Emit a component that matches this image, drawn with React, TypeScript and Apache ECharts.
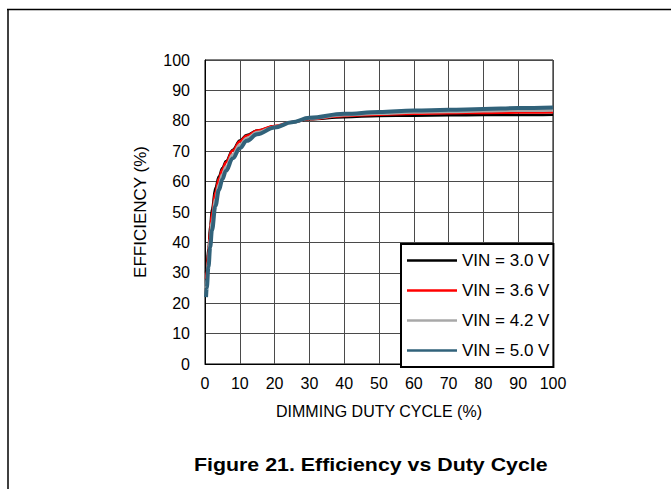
import React, { useEffect, useRef } from "react";
import * as echarts from "echarts";

const duty = [0.3, 0.5, 1, 1.5, 2, 3, 4, 5, 6, 8, 10, 12, 15, 20, 25, 30, 40, 50, 60, 70, 80, 90, 100];
const vin30 = [30, 32.5, 38, 45.5, 51, 58, 61.8, 64.5, 66.7, 70.5, 73.5, 75.3, 76.8, 78.2, 79.5, 80.5, 81.2, 81.6, 81.7, 81.8, 81.9, 81.9, 82];
const vin36 = [28, 30.5, 37, 44, 49.5, 56.5, 61, 64, 66.3, 70.2, 73.2, 75.1, 76.8, 78.3, 79.6, 80.6, 81.6, 82, 82.3, 82.5, 82.6, 82.7, 82.8];
const vin42 = [25, 27.8, 34, 41, 46.5, 54, 59, 62.3, 64.8, 68.9, 72.1, 74.3, 76.2, 78, 79.5, 80.8, 81.9, 82.4, 82.8, 83, 83.2, 83.4, 83.5];
const vin50 = [22, 25, 32, 38.5, 44, 52, 57.2, 60.8, 63.5, 67.7, 71, 73.4, 75.6, 77.8, 79.5, 81, 82.3, 82.9, 83.4, 83.6, 83.9, 84.2, 84.4];
const seriesNames = ["VIN = 3.0 V", "VIN = 3.6 V", "VIN = 4.2 V", "VIN = 5.0 V"];
const seriesColors = ["#000000", "#ff0000", "#a8a8a8", "#31627a"];
const seriesWidths = [2.5, 2.5, 3, 4];
const xTicks = [0, 10, 20, 30, 40, 50, 60, 70, 80, 90, 100];
const yTicks = [0, 10, 20, 30, 40, 50, 60, 70, 80, 90, 100];
const titleText = "Figure 21. Efficiency vs Duty Cycle";

const LEGEND_ICON = "path://M0,0 L0,0 M0,11.5 L50,11.5 L50,16.5 L0,16.5 Z M50,28 L50,28";

export default function App() {
  const ref = useRef<HTMLDivElement>(null);
  useEffect(() => {
    if (!ref.current) return;
    const chart = echarts.init(ref.current, undefined, { renderer: "svg" });
    const all = [vin30, vin36, vin42, vin50];
    const font = "Liberation Sans, Arial, sans-serif";
    chart.setOption({
      animation: false,
      backgroundColor: "#ffffff",
      textStyle: { fontFamily: font },
      grid: {
        left: 205,
        top: 60,
        width: 348,
        height: 304,
        show: true,
        borderColor: "#000",
        borderWidth: 1,
      },
      legend: {
        orient: "vertical",
        left: 401,
        top: 244,
        padding: [8, 4, 8, 6],
        itemWidth: 50,
        itemHeight: 14,
        itemGap: 13,
        symbolKeepAspect: false,
        backgroundColor: "#fff",
        borderColor: "#000",
        borderWidth: 2,
        borderRadius: 0,
        data: seriesNames.map((n) => ({ name: n, icon: LEGEND_ICON })),
        textStyle: { fontFamily: font, fontSize: 17, color: "#000" },
      },
      xAxis: {
        type: "value",
        min: 0,
        max: 100,
        interval: 10,
        name: "DIMMING DUTY CYCLE (%)",
        nameLocation: "middle",
        nameGap: 39,
        nameTextStyle: { fontFamily: font, fontSize: 16, color: "#000" },
        axisLine: { lineStyle: { color: "#000", width: 1 } },
        axisTick: { show: false },
        axisLabel: {
          margin: 11,
          fontFamily: font,
          fontSize: 16,
          color: "#000",
          formatter: (v: number) => (xTicks.includes(v) ? String(v) : ""),
        },
        splitLine: { show: true, lineStyle: { color: "#4a4a4a", width: 1 } },
      },
      yAxis: {
        type: "value",
        min: 0,
        max: 100,
        interval: 10,
        name: "EFFICIENCY (%)",
        nameLocation: "middle",
        nameGap: 56,
        nameTextStyle: { fontFamily: font, fontSize: 17, color: "#000" },
        axisLine: { show: true, lineStyle: { color: "#000", width: 1 } },
        axisTick: { show: false },
        axisLabel: {
          margin: 15,
          fontFamily: font,
          fontSize: 16,
          color: "#000",
          formatter: (v: number) => (yTicks.includes(v) ? String(v) : ""),
        },
        splitLine: { show: true, lineStyle: { color: "#4a4a4a", width: 1 } },
      },
      series: all.map((vals, i) => ({
        name: seriesNames[i],
        type: "line",
        data: duty.map((d, j) => [d, vals[j]]),
        symbol: "none",
        smooth: 0.4,
        smoothMonotone: "x",
        lineStyle: { color: seriesColors[i], width: seriesWidths[i] },
        itemStyle: { color: seriesColors[i] },
        z: 2 + i,
      })),
      graphic: [
        { type: "line", shape: { x1: 7, y1: 9.5, x2: 671, y2: 9.5 }, style: { stroke: "#000", lineWidth: 1.5 } },
        { type: "line", shape: { x1: 8, y1: 9, x2: 8, y2: 489 }, style: { stroke: "#000", lineWidth: 1.5 } },
        {
          type: "text",
          x: 194,
          y: 464.5,
          scaleX: 1.155,
          style: {
            text: titleText,
            x: 0,
            y: 0,
            font: "bold 18.5px Liberation Sans, Arial, sans-serif",
            fill: "#000",
            textAlign: "left",
            textVerticalAlign: "middle",
          },
        },
      ],
    });
    return () => chart.dispose();
  }, []);
  return (
    <div
      ref={ref}
      style={{ position: "fixed", left: 0, top: 0, width: 671, height: 489 }}
    />
  );
}
